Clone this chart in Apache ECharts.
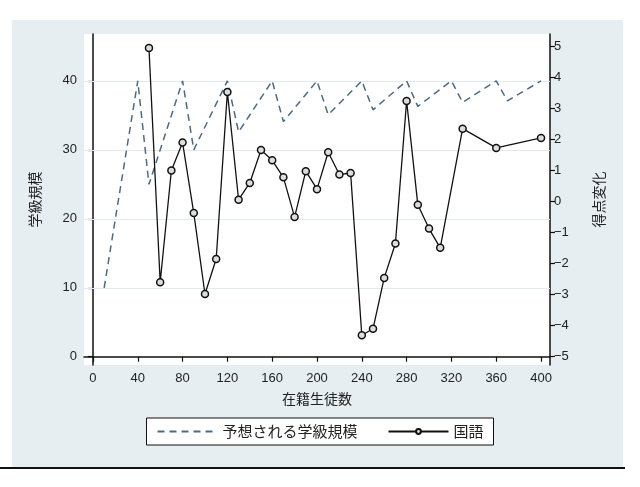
<!DOCTYPE html>
<html>
<head>
<meta charset="utf-8">
<script src="https://cdn.jsdelivr.net/npm/echarts@6/dist/echarts.min.js"></script>
<style>
  html, body { margin: 0; padding: 0; background: #fff; }
  #chart { width: 640px; height: 487px; }
</style>
</head>
<body>
<div id="chart"></div>
<script>
// 予想される学級規模 (left axis)
var sizeX = [10, 40, 50, 80, 90, 120, 130, 160, 170, 200, 210, 240, 250, 280, 290, 320, 330, 360, 370, 400];
var sizeY = [10, 40, 25, 40, 30, 40, 32.6, 40, 34.1, 40, 35.1, 40, 35.8, 40, 36.3, 40, 36.9, 40, 37.1, 40];

// 国語 (right axis)
var scoreX = [50, 60, 70, 80, 90, 100, 110, 120, 130, 140, 150, 160, 170, 180, 190, 200, 210, 220, 230,
              240, 250, 260, 270, 280, 290, 300, 310, 330, 360, 400];
var scoreY = [4.95, -2.6, 1.0, 1.9, -0.37, -2.98, -1.85, 3.53, 0.06, 0.6, 1.66, 1.33, 0.78, -0.5, 0.98, 0.4, 1.59, 0.87, 0.92,
              -4.31, -4.1, -2.46, -1.35, 3.24, -0.1, -0.87, -1.49, 2.35, 1.73, 2.05];

var xTicks = [0, 40, 80, 120, 160, 200, 240, 280, 320, 360, 400];
var leftTicks = [0, 10, 20, 30, 40];
var rightTicks = [-5, -4, -3, -2, -1, 0, 1, 2, 3, 4, 5];
var gridLines = [10, 20, 30, 40];

function pairs(xs, ys) {
	var out = [];
	for (var i = 0; i < xs.length; i++) out.push([xs[i], ys[i]]);
	return out;
}

var myChart = echarts.init(document.getElementById('chart'));
var labelStyle = { color: '#222', fontSize: 13, fontFamily: 'Liberation Sans, Arial, sans-serif' };
var nameStyle = { color: '#222', fontSize: 14, fontFamily: 'Noto Sans CJK JP, sans-serif' };

option = {
	backgroundColor: '#fff',
	animation: false,
	graphic: [
		{ type: 'rect', z: -10, shape: { x: 12, y: 20, width: 611, height: 447 }, style: { fill: '#e7eef1' } },
		{ type: 'line', z: -5, shape: { x1: 0, y1: 468, x2: 625, y2: 468 }, style: { stroke: '#111', lineWidth: 2 } }
	],
	grid: {
		left: 84, right: 90, top: 34, bottom: 122,
		show: true, backgroundColor: '#fff', borderWidth: 0
	},
	legend: {
		top: 418,
		left: 'center',
		backgroundColor: '#fff',
		borderColor: '#111',
		borderWidth: 1,
		borderRadius: 0,
		padding: [6, 10],
		itemGap: 30,
		itemWidth: 60,
		itemHeight: 6,
		textStyle: { color: '#222', fontSize: 15, fontFamily: 'Noto Sans CJK JP, sans-serif' },
		data: [
			{ name: '予想される学級規模', itemStyle: { opacity: 0 } },
			{ name: '国語' }
		]
	},
	xAxis: {
		type: 'value',
		min: -8, max: 408,
		name: '在籍生徒数',
		nameLocation: 'middle',
		nameGap: 27,
		nameTextStyle: nameStyle,
		axisLine: { lineStyle: { color: '#111', width: 1.5 } },
		axisTick: { show: true, length: 5, customValues: xTicks, lineStyle: { color: '#111', width: 1.2 } },
		axisLabel: { customValues: xTicks, margin: 7, textStyle: labelStyle },
		splitLine: { show: false }
	},
	yAxis: [{
		type: 'value',
		min: -1.2, max: 46.8,
		position: 'left',
		name: '学級規模',
		nameLocation: 'middle',
		nameRotate: 90,
		nameGap: 42,
		nameTextStyle: nameStyle,
		axisLine: { show: true, lineStyle: { color: '#111', width: 1.5 } },
		axisTick: { show: true, length: 5, customValues: leftTicks, lineStyle: { color: '#111', width: 1.2 } },
		axisLabel: { customValues: leftTicks, margin: 7, textStyle: labelStyle },
		splitLine: { show: false }
	}, {
		type: 'value',
		min: -5.267, max: 5.4,
		position: 'right',
		name: '得点変化',
		nameLocation: 'middle',
		nameRotate: 90,
		nameGap: 42,
		nameTextStyle: nameStyle,
		axisLine: { show: true, lineStyle: { color: '#111', width: 1.5 } },
		axisTick: { show: true, length: 5, customValues: rightTicks, lineStyle: { color: '#111', width: 1.2 } },
		axisLabel: { customValues: rightTicks, margin: 4, textStyle: labelStyle, formatter: function (v) { return String(v).replace('-', '\u2212'); } },
		splitLine: { show: false }
	}],
	series: [{
		name: '予想される学級規模',
		type: 'line',
		yAxisIndex: 0,
		data: pairs(sizeX, sizeY),
		symbol: 'none',
		z: 3,
		lineStyle: { color: '#4b6a88', width: 1.5, type: [7, 5] },
		itemStyle: { color: '#4b6a88' },
		markLine: {
			silent: true,
			symbol: 'none',
			label: { show: false },
			z: 1,
			lineStyle: { color: '#e3e9ec', width: 1, type: 'solid' },
			data: gridLines.map(function (v) { return { yAxis: v }; })
		}
	}, {
		name: '国語',
		type: 'line',
		yAxisIndex: 1,
		data: pairs(scoreX, scoreY),
		symbol: 'circle',
		symbolSize: 7,
		z: 4,
		lineStyle: { color: '#111', width: 1.3 },
		itemStyle: { color: '#ddd', borderColor: '#111', borderWidth: 1.5 }
	}]
};

myChart.setOption(option);
</script>
</body>
</html>
